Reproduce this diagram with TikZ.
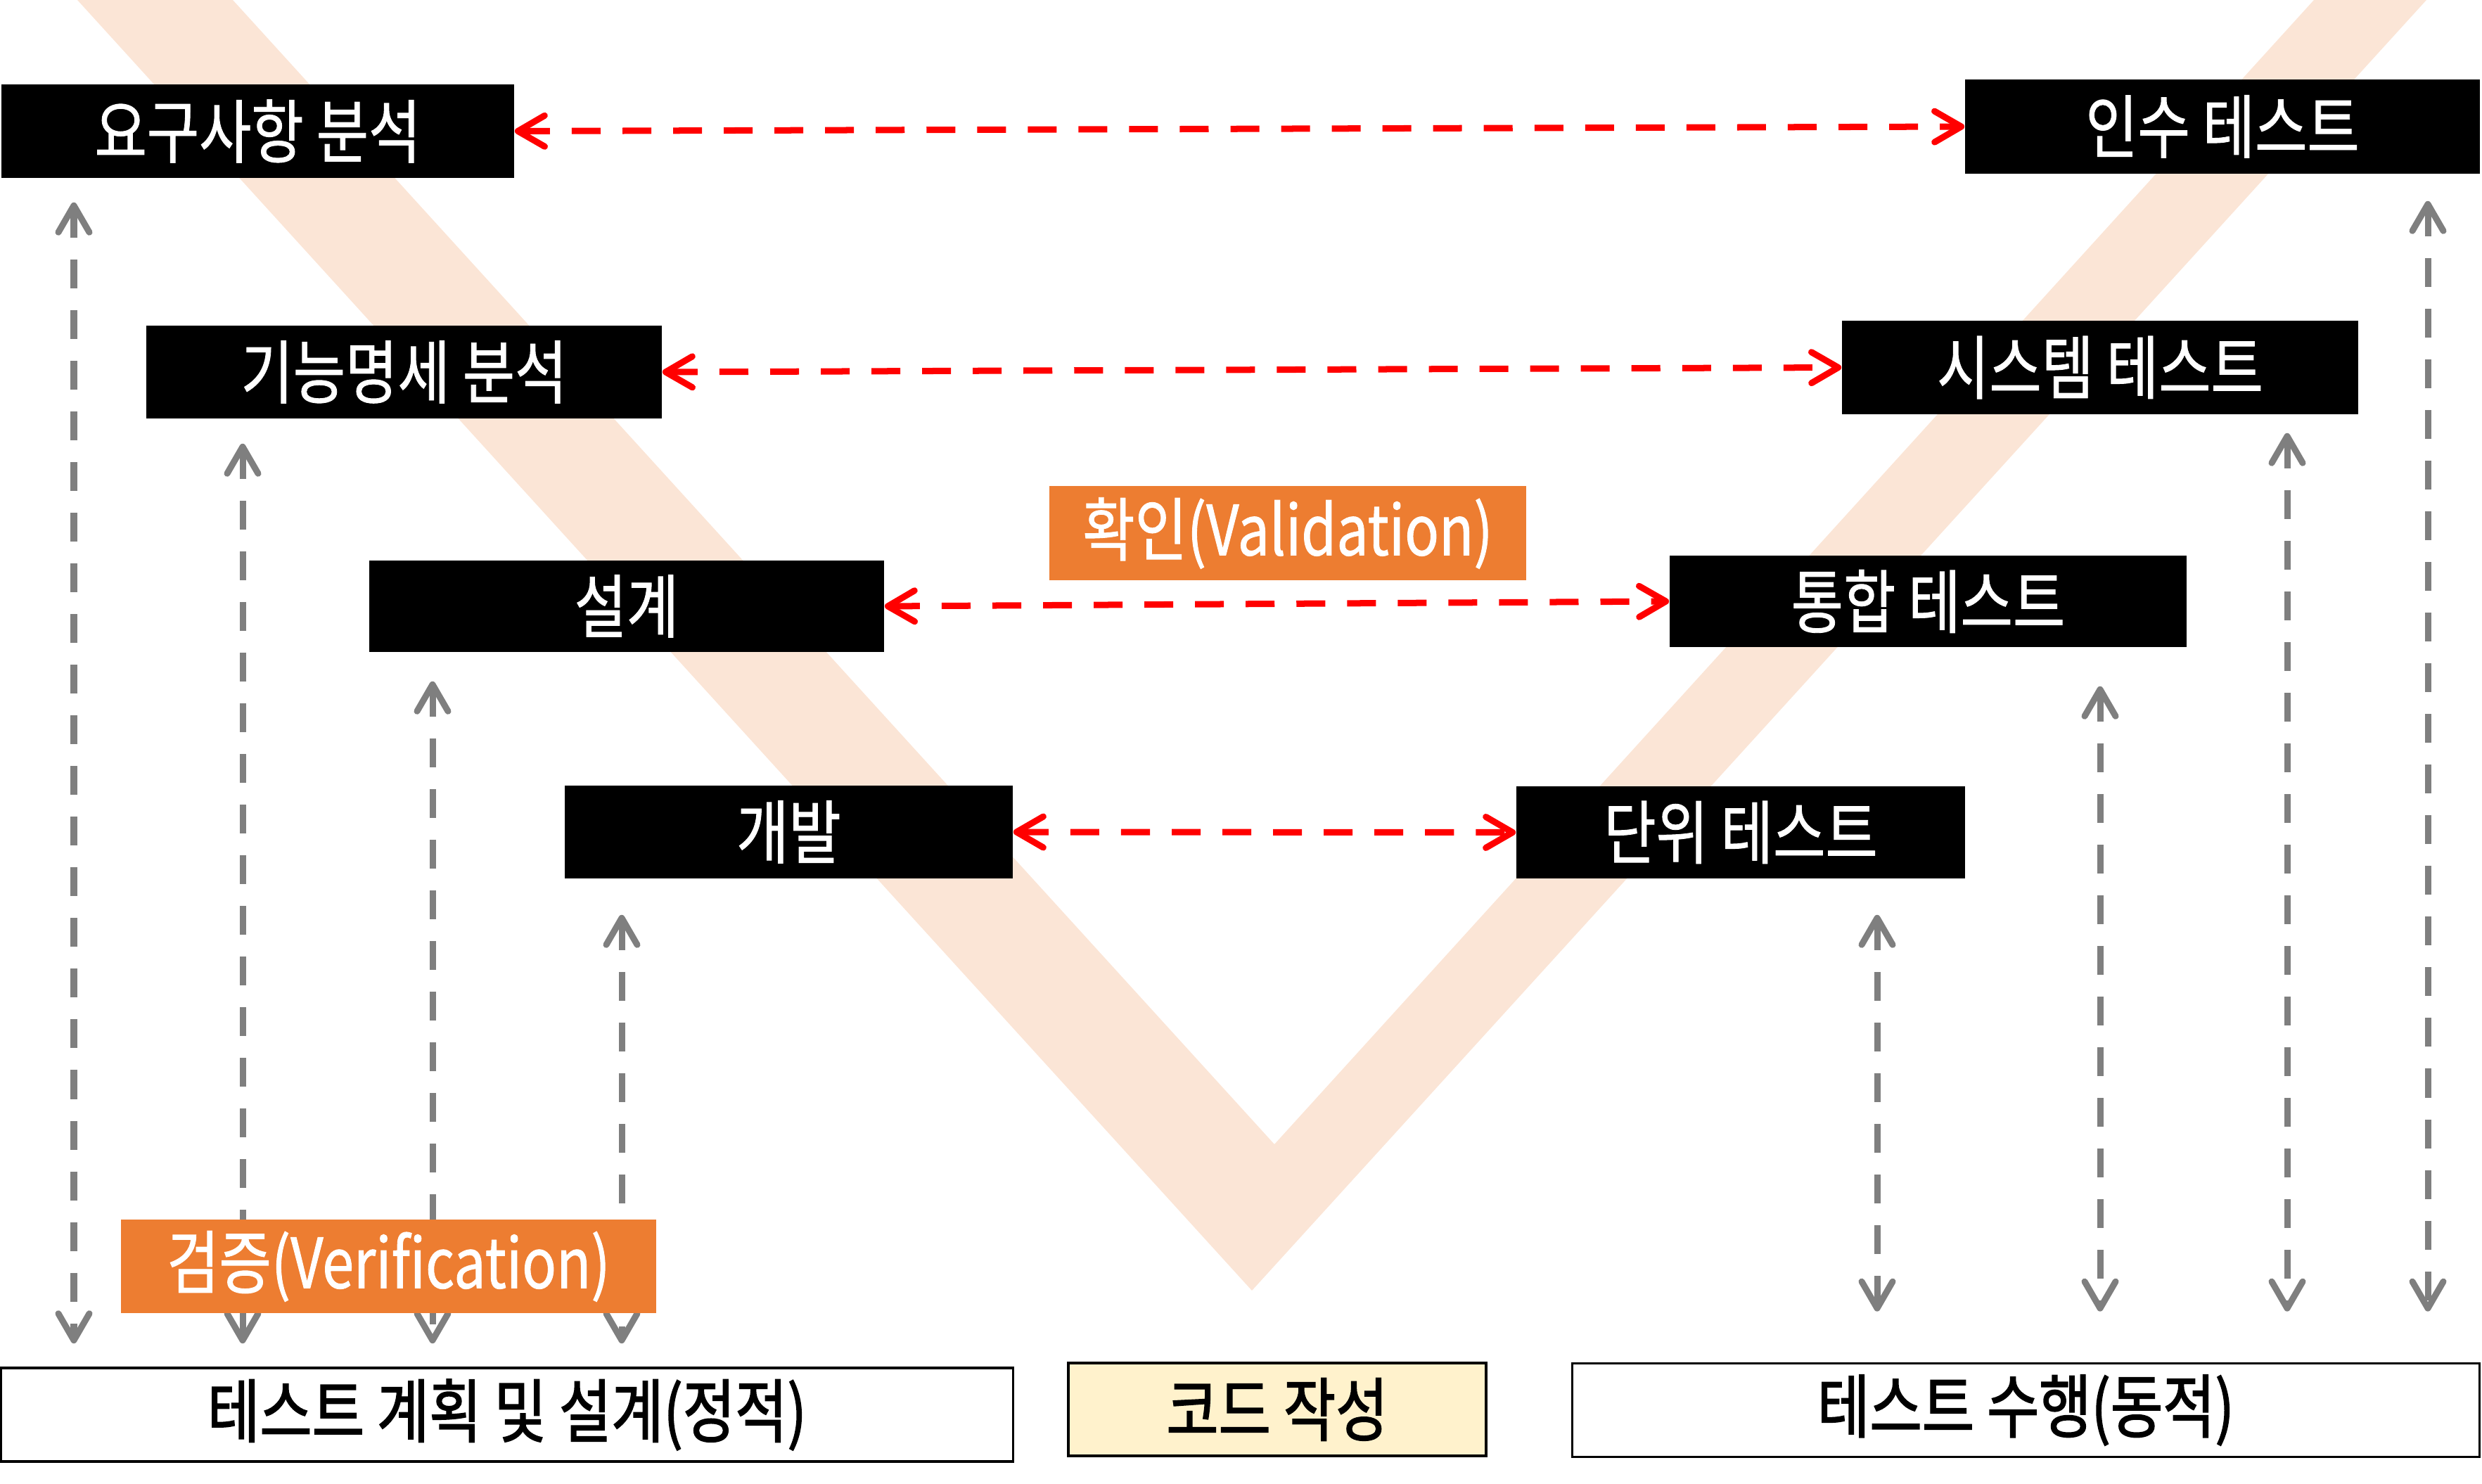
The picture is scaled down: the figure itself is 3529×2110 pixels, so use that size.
\documentclass[tikz,border=0pt]{standalone}
\usepackage{fontspec}
\newfontfamily\kr{Noto Sans CJK KR}[FakeStretch=0.82,FakeBold=0.9]
\newfontfamily\krb{Noto Sans CJK KR}[FakeStretch=0.82,FakeBold=1.6]
\usetikzlibrary{arrows.meta}
\pgfdeclarelayer{background}
\pgfsetlayers{background,main}
\definecolor{vband}{RGB}{251,229,214}
\definecolor{orng}{RGB}{237,125,49}
\definecolor{gry}{RGB}{127,127,127}
\definecolor{ylw}{RGB}{255,242,204}
\begin{document}
\begin{tikzpicture}[x=0.01cm,y=-0.01cm,
  txt/.style={font=\kr\fontsize{28}{34}\selectfont, inner sep=0pt},
  blk/.style={txt, fill=black, text=white},
  lbl/.style={txt, fill=orng, text=white},
  base/.style={txt, font=\krb\fontsize{28}{34}\selectfont, draw=black, line width=0.035cm, text=black},
  redarr/.style={red, line width=0.09cm, dash pattern=on 0.41cm off 0.31cm,
    {Straight Barb[length=0.38cm,width=0.44cm,round]}-{Straight Barb[length=0.38cm,width=0.44cm,round]}},
  grayarr/.style={gry, line width=0.09cm, dash pattern=on 0.41cm off 0.31cm,
    {Straight Barb[length=0.38cm,width=0.44cm,round]}-{Straight Barb[length=0.38cm,width=0.44cm,round]}}
]
\useasboundingbox (0,0) rectangle (3529,2110);

% boxes (left side)
\node[blk, minimum width=7.29cm, minimum height=1.33cm] (req) at (366.5,186.5) {요구사항 분석};
\node[blk, minimum width=7.33cm, minimum height=1.32cm] (func) at (574.5,529) {기능명세 분석};
\node[blk, minimum width=7.32cm, minimum height=1.30cm] (des) at (891,862) {설계};
\node[blk, minimum width=6.37cm, minimum height=1.32cm] (dev) at (1121.5,1183) {개발};
% boxes (right side)
\node[blk, minimum width=7.32cm, minimum height=1.34cm] (acc) at (3160,180) {인수 테스트};
\node[blk, minimum width=7.34cm, minimum height=1.33cm] (sys) at (2986,522.5) {시스템 테스트};
\node[blk, minimum width=7.35cm, minimum height=1.30cm] (int) at (2741.5,855) {통합 테스트};
\node[blk, minimum width=6.38cm, minimum height=1.31cm] (unit) at (2475,1183.5) {단위 테스트};
% labels
\node[lbl, minimum width=6.78cm, minimum height=1.34cm] (val) at (1831,758) {확인(Validation)};
\node[lbl, minimum width=7.61cm, minimum height=1.33cm] (ver) at (552.5,1800.5) {검증(Verification)};
% bottom boxes
\node[base, fill=white, minimum width=14.38cm, minimum height=1.33cm] (plan) at (721,2011.5) {테스트 계획 및 설계(정적)};
\node[base, fill=ylw, minimum width=5.94cm, minimum height=1.32cm] (code) at (1816,2004) {코드 작성};
\node[base, fill=white, minimum width=12.89cm, minimum height=1.33cm] (exec) at (2880.5,2005) {테스트 수행(동적)};

% x positions of vertical connectors
\coordinate (g1) at (105,0);
\coordinate (g2) at (345,0);
\coordinate (g3) at (615,0);
\coordinate (g4) at (884,0);
\coordinate (h1) at (2669,0);
\coordinate (h2) at (2986,0);
\coordinate (h3) at (3252,0);
\coordinate (h4) at (3452,0);

\begin{pgfonlayer}{background}
  \fill[vband] (110,0) -- (1780,1835) -- (3450,0) -- (3290,0) -- (1812,1627) -- (331,0) -- cycle;
  \draw[grayarr, shorten <=0.34cm, shorten >=0.33cm] (req.south -| g1) -- (plan.north -| g1);
  \draw[grayarr, shorten <=0.35cm, shorten >=0.33cm] (func.south -| g2) -- (plan.north -| g2);
  \draw[grayarr, shorten <=0.41cm, shorten >=0.33cm] (des.south -| g3) -- (plan.north -| g3);
  \draw[grayarr, shorten <=0.51cm, shorten >=0.33cm] (dev.south -| g4) -- (plan.north -| g4);
  \draw[grayarr, shorten <=0.51cm, shorten >=0.72cm] (unit.south -| h1) -- (exec.north -| h1);
  \draw[grayarr, shorten <=0.55cm, shorten >=0.72cm] (int.south -| h2) -- (exec.north -| h2);
  \draw[grayarr, shorten <=0.26cm, shorten >=0.72cm] (sys.south -| h3) -- (exec.north -| h3);
  \draw[grayarr, shorten <=0.38cm, shorten >=0.72cm] (acc.south -| h4) -- (exec.north -| h4);
\end{pgfonlayer}

% red connectors
\draw[redarr] (req.east) -- (acc.west);
\draw[redarr] (func.east) -- (sys.west);
\draw[redarr] (des.east) -- (int.west);
\draw[redarr] (dev.east) -- (unit.west);
\end{tikzpicture}
\end{document}
